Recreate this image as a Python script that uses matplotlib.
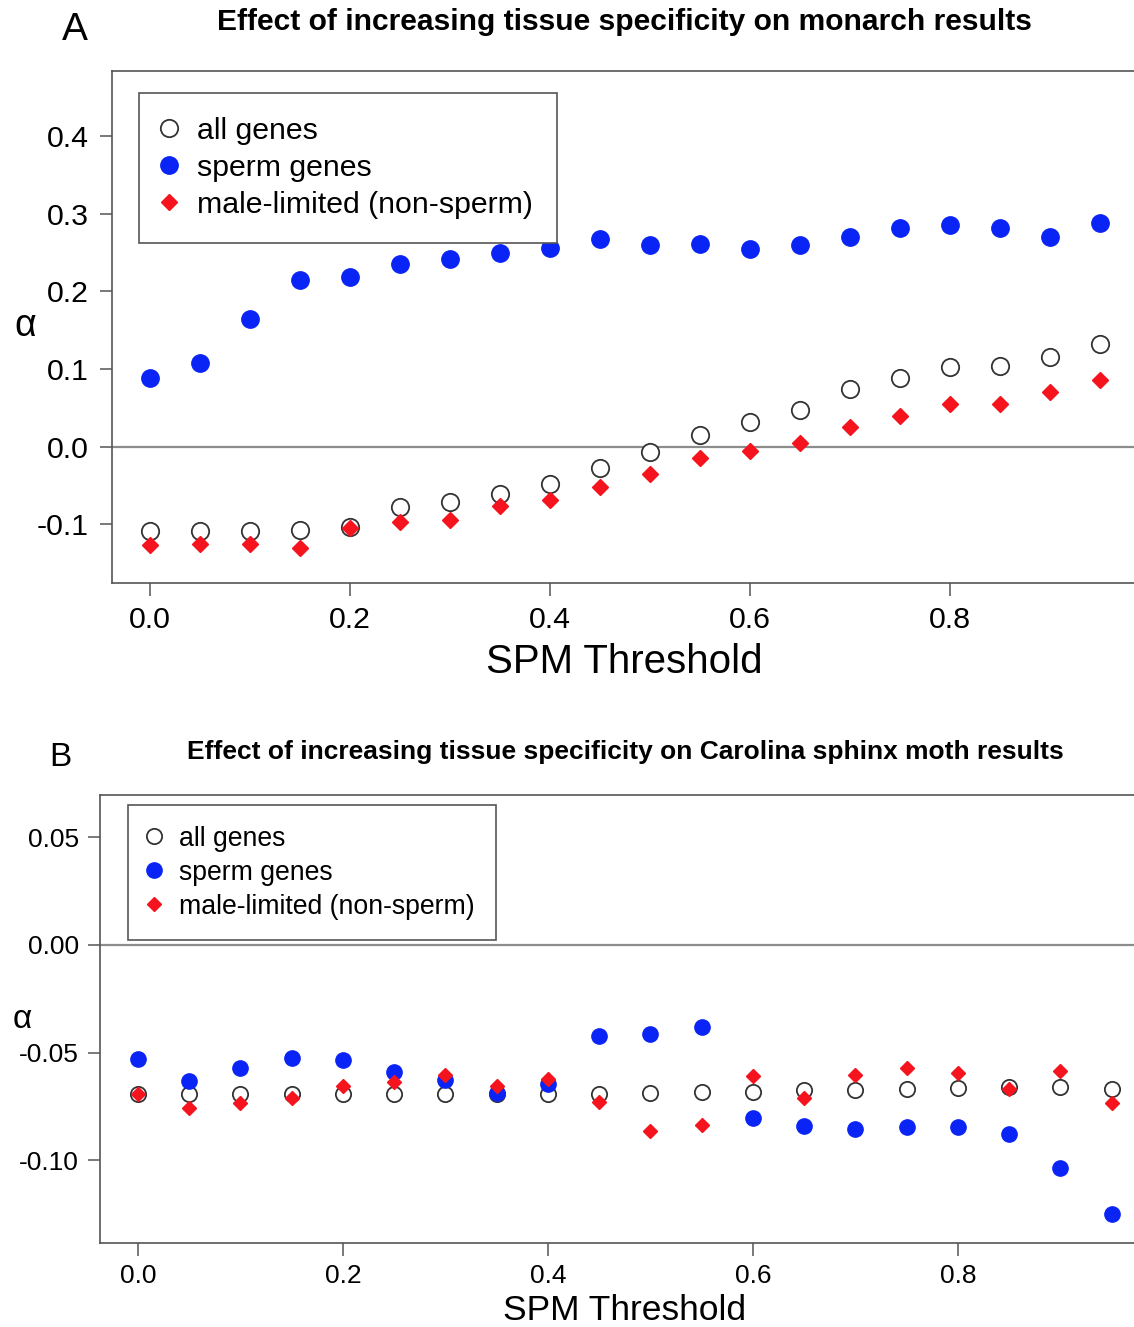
import matplotlib
matplotlib.use("Agg")
import matplotlib.pyplot as plt

plt.rcParams['font.family'] = ['Liberation Sans', 'DejaVu Sans']

# SPM thresholds (same for both panels)
spm = [0.00, 0.05, 0.10, 0.15, 0.20, 0.25, 0.30, 0.35, 0.40, 0.45,
       0.50, 0.55, 0.60, 0.65, 0.70, 0.75, 0.80, 0.85, 0.90, 0.95]

# panel A: monarch
monarch_all = [-0.109, -0.109, -0.109, -0.107, -0.103, -0.078, -0.071, -0.061, -0.048, -0.028,
               -0.007, 0.015, 0.032, 0.047, 0.074, 0.089, 0.102, 0.104, 0.116, 0.132]
monarch_sperm = [0.089, 0.108, 0.164, 0.214, 0.219, 0.235, 0.242, 0.249, 0.256, 0.267,
                 0.260, 0.261, 0.255, 0.260, 0.270, 0.282, 0.285, 0.281, 0.270, 0.288]
monarch_male = [-0.127, -0.125, -0.125, -0.130, -0.105, -0.097, -0.094, -0.076, -0.069, -0.052,
                -0.035, -0.014, -0.005, 0.005, 0.025, 0.040, 0.055, 0.055, 0.070, 0.086]

# panel B: Carolina sphinx moth
sphinx_all = [-0.069, -0.069, -0.069, -0.069, -0.069, -0.069, -0.069, -0.069, -0.069, -0.069,
              -0.0687, -0.0683, -0.0683, -0.0672, -0.0672, -0.067, -0.0664, -0.0659, -0.0659, -0.0667]
sphinx_sperm = [-0.0528, -0.0633, -0.0571, -0.0523, -0.0536, -0.059, -0.0628, -0.0686, -0.0644, -0.0423,
                -0.0412, -0.0381, -0.0803, -0.0841, -0.0853, -0.0844, -0.0845, -0.0878, -0.1034, -0.1249]
sphinx_male = [-0.069, -0.0757, -0.0732, -0.0711, -0.0655, -0.0636, -0.0605, -0.0655, -0.0624, -0.0729,
               -0.0861, -0.0834, -0.0608, -0.0711, -0.0605, -0.0571, -0.0593, -0.067, -0.0587, -0.0732]

labels = ["all genes", "sperm genes", "male-limited (non-sperm)"]
A_yticks = [0.4, 0.3, 0.2, 0.1, 0.0, -0.1]
A_yticklabels = ["0.4", "0.3", "0.2", "0.1", "0.0", "-0.1"]
B_yticks = [0.05, 0.0, -0.05, -0.10]
B_yticklabels = ["0.05", "0.00", "-0.05", "-0.10"]
xticks = [0.0, 0.2, 0.4, 0.6, 0.8]
xticklabels = ["0.0", "0.2", "0.4", "0.6", "0.8"]

BLUE = '#0a24f5'
RED = '#f5141e'
W, H = 1134, 1327

fig = plt.figure(figsize=(W / 100, H / 100), dpi=100)
axA = fig.add_axes([112 / W, 1 - 582.7 / H, (1138 - 112) / W, 512 / H])
axB = fig.add_axes([100 / W, 1 - 1243 / H, 1050.6 / W, 448 / H])


def draw(ax, y_all, y_sperm, y_male, ms_c, ms_d, fs, pad, leg_fs, leg_anchor, lsp):
    ax.axhline(0, color='#8c8c8c', lw=1.6, zorder=1)
    ax.plot(spm, y_all, 'o', ls='none', mfc='white', mec='#333333', mew=1.3, ms=ms_c,
            label=labels[0], zorder=3)
    ax.plot(spm, y_sperm, 'o', ls='none', color=BLUE, ms=ms_c, label=labels[1], zorder=4)
    ax.plot(spm, y_male, 'D', ls='none', color=RED, ms=ms_d, label=labels[2], zorder=5)
    for s in ['left', 'bottom', 'top', 'right']:
        ax.spines[s].set_color('#555555')
        ax.spines[s].set_linewidth(1.2)
    ax.tick_params(length=9, width=1.1, color='#555555', labelsize=fs, pad=pad)
    ax.set_xticks(xticks)
    ax.set_xticklabels(xticklabels)
    leg = ax.legend(loc='upper left', bbox_to_anchor=leg_anchor, borderaxespad=0,
                    fontsize=leg_fs, fancybox=False, edgecolor='#555555', framealpha=1,
                    handlelength=0.4, handletextpad=0.75, borderpad=0.78, labelspacing=lsp,
                    markerscale=1.0)
    leg.get_frame().set_linewidth(1.2)


draw(axA, monarch_all, monarch_sperm, monarch_male, 12.5, 8.5, 21.8, 8, 21.8,
     (0.0263, 0.956), 0.3)
axA.set_xlim(-0.038, 0.988)
axA.set_ylim(-0.175, 0.484)
axA.set_yticks(A_yticks)
axA.set_yticklabels(A_yticklabels)

draw(axB, sphinx_all, sphinx_sperm, sphinx_male, 11, 7.5, 19, 6, 19.2,
     (0.0266, 0.978), 0.3)
axB.set_xlim(-0.037, 0.988)
axB.set_ylim(-0.1383, 0.0696)
axB.set_yticks(B_yticks)
axB.set_yticklabels(B_yticklabels)


def ftext(x, y, s, **kw):
    fig.text(x / W, 1 - y / H, s, ha='center', va='center', **kw)


ftext(75, 30, "A", fontsize=28)
ftext(624, 22, "Effect of increasing tissue specificity on monarch results",
      fontsize=21.6, fontweight='bold')
ftext(624, 662, "SPM Threshold", fontsize=29)
ftext(25, 326, "\u03b1", fontsize=27)

ftext(60, 758, "B", fontsize=24)
ftext(625, 752, "Effect of increasing tissue specificity on Carolina sphinx moth results",
      fontsize=19, fontweight='bold')
ftext(625, 1311, "SPM Threshold", fontsize=25.5)
ftext(22, 1019, "\u03b1", fontsize=24)

fig.savefig("out.png", dpi=100)
